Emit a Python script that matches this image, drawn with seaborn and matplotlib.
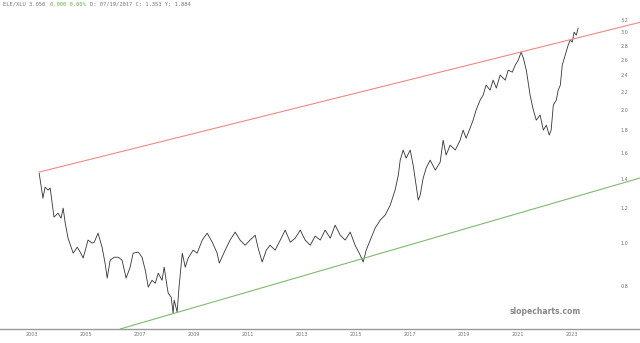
import numpy as np
import pandas as pd
import matplotlib
matplotlib.use("Agg")
import matplotlib.pyplot as plt
import seaborn as sns

# ---- data ----
years = [2003.26, 2003.40, 2003.48, 2003.59, 2003.67, 2003.74, 2003.81, 2003.96, 2004.07, 2004.15,
         2004.22, 2004.33, 2004.52, 2004.67, 2004.78, 2004.89, 2005.07, 2005.22, 2005.30, 2005.44,
         2005.59, 2005.70, 2005.78, 2005.89, 2006.04, 2006.19, 2006.33, 2006.48, 2006.63, 2006.74,
         2006.93, 2007.07, 2007.19, 2007.30, 2007.44, 2007.56, 2007.67, 2007.81, 2007.89, 2008.00,
         2008.04, 2008.15, 2008.22, 2008.26, 2008.37, 2008.44, 2008.56, 2008.67, 2008.78, 2008.96,
         2009.11, 2009.30, 2009.48, 2009.67, 2009.85, 2009.93,
         2010.15, 2010.33, 2010.52, 2010.70, 2010.89, 2011.07, 2011.26, 2011.37, 2011.52, 2011.67,
         2011.81, 2012.00, 2012.19, 2012.37, 2012.56, 2012.74, 2012.93, 2013.11, 2013.30, 2013.48,
         2013.67, 2013.85, 2014.04, 2014.22, 2014.41, 2014.59, 2014.78, 2014.96, 2015.15, 2015.26,
         2015.37, 2015.52, 2015.70, 2015.89, 2016.07, 2016.26, 2016.44, 2016.56, 2016.63, 2016.74,
         2016.85, 2017.00, 2017.11, 2017.22, 2017.30, 2017.37, 2017.48, 2017.59, 2017.74, 2017.93,
         2018.11, 2018.22, 2018.33, 2018.48, 2018.67, 2018.85, 2018.96, 2019.07, 2019.22, 2019.33,
         2019.44, 2019.59, 2019.70, 2019.81, 2019.96, 2020.07, 2020.19, 2020.33, 2020.52, 2020.63,
         2020.78, 2020.89, 2021.00, 2021.11, 2021.19, 2021.30, 2021.44, 2021.56, 2021.67, 2021.81,
         2021.93, 2022.04, 2022.15, 2022.22, 2022.30, 2022.41, 2022.48, 2022.56, 2022.63, 2022.74,
         2022.85, 2022.93, 2023.00, 2023.07, 2023.15, 2023.22]
ratio = [1.441, 1.265, 1.340, 1.319, 1.333, 1.233, 1.146, 1.170, 1.140, 1.201,
         1.116, 1.027, 0.950, 0.980, 0.955, 0.926, 1.017, 1.001, 1.006, 1.054,
         0.980, 0.902, 0.834, 0.916, 0.930, 0.930, 0.916, 0.834, 0.883, 0.950,
         0.955, 0.930, 0.869, 0.796, 0.825, 0.812, 0.856, 0.825, 0.883, 0.796,
         0.771, 0.755, 0.695, 0.744, 0.699, 0.796, 0.950, 0.883, 0.926, 0.965,
         0.950, 1.017, 1.054, 1.006, 0.950, 0.902,
         0.965, 1.017, 1.060, 1.017, 0.990, 1.017, 1.043, 0.975, 0.907, 0.965,
         0.990, 0.965, 1.017, 1.071, 1.006, 1.027, 1.071, 1.017, 0.990, 1.038,
         1.017, 1.071, 1.027, 1.099, 1.043, 1.017, 1.060, 0.990, 0.940, 0.907,
         0.965, 1.017, 1.082, 1.128, 1.158, 1.220, 1.319, 1.426, 1.542, 1.625,
         1.558, 1.625, 1.502, 1.354, 1.252, 1.285, 1.404, 1.479, 1.542, 1.464,
         1.526, 1.711, 1.583, 1.667, 1.625, 1.711, 1.803, 1.729, 1.822, 1.899,
         2.001, 2.108, 2.163, 2.279, 2.220, 2.339, 2.244, 2.401, 2.339, 2.464,
         2.438, 2.529, 2.596, 2.706, 2.623, 2.464, 2.163, 2.001, 1.899, 1.950,
         1.803, 1.850, 1.757, 1.803, 2.054, 2.108, 2.220, 2.279, 2.529, 2.664,
         2.807, 2.881, 2.851, 3.003, 2.957, 3.067]

upper_x = [2003.26, 2025.51]
upper_y = [1.449, 3.16]
lower_x = [2006.26, 2025.51]
lower_y = [0.64, 1.405]

tick_years = [2003, 2005, 2007, 2009, 2011, 2013, 2015, 2017, 2019, 2021, 2023]
tick_labels = [str(y) for y in tick_years]
y_ticks = [0.8, 1.0, 1.2, 1.4, 1.6, 1.8, 2.0, 2.2, 2.4, 2.6, 2.8, 3.0, 3.2]

header_parts = [("ELE/XLU 3.050 ", "#777777"),
                ("0.000 0.00% ", "#6aa84f"),
                ("D: 07/19/2017 C: 1.353 Y: 1.884", "#777777")]

df = pd.DataFrame({"year": years, "ratio": ratio})

sns.set_style("white")
fig = plt.figure(figsize=(6.4, 3.43), dpi=100)
ax = fig.add_axes([0, 14 / 343, 1, 329 / 343])

sns.lineplot(data=df, x="year", y="ratio", ax=ax, color="#333333", linewidth=0.6,
             estimator=None, sort=False)
sns.lineplot(x=upper_x, y=upper_y, ax=ax, color="#ec8a86", linewidth=0.8, estimator=None)
sns.lineplot(x=lower_x, y=lower_y, ax=ax, color="#82b872", linewidth=0.8, estimator=None)

ax.set_yscale("log")
ax.set_ylim(0.64, 3.55)
ax.set_xlim(2001.81, 2025.51)
ax.set_xlabel("")
ax.set_ylabel("")

ax.set_xticks(tick_years)
ax.set_xticklabels(tick_labels)
ax.yaxis.set_minor_locator(matplotlib.ticker.NullLocator())
ax.set_yticks(y_ticks)
ax.set_yticklabels([f"{v:.1f}" for v in y_ticks])
ax.yaxis.tick_right()
ax.tick_params(axis="y", length=0, pad=-14, labelsize=3.5, labelcolor="#777777")
ax.tick_params(axis="x", length=0, pad=2.5, labelsize=3.5, labelcolor="#777777")

for s in ["top", "left", "right"]:
    ax.spines[s].set_visible(False)
ax.spines["bottom"].set_color("#999999")
ax.spines["bottom"].set_linewidth(1.0)
ax.grid(False)

# header (monospace, chained by character count)
fs = 4
char_w = 0.602 * fs / 72 * 100 / 640  # figure fraction per character
xpos = 3 / 640
for txt, col in header_parts:
    fig.text(xpos, 1 - 2 / 343, txt, fontsize=fs, family="DejaVu Sans Mono",
             color=col, va="top", ha="left")
    xpos += len(txt) * char_w

fig.text(545 / 640, 1 - 312 / 343, "slopecharts.com", fontsize=5.5, fontweight="bold",
         color="#888888", ha="center", va="center")

fig.savefig("out.png", dpi=100)
